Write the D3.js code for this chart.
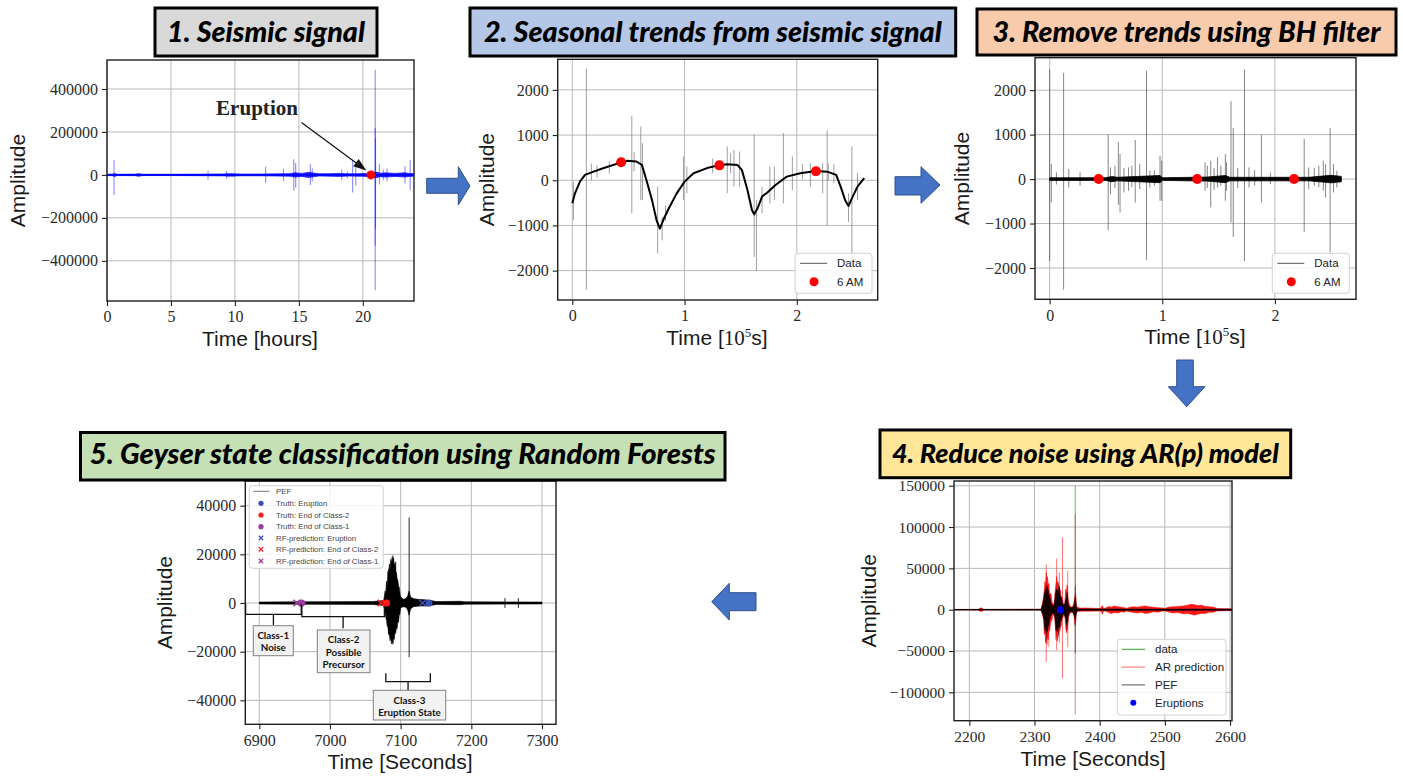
<!DOCTYPE html>
<html>
<head>
<meta charset="utf-8">
<script src="https://cdn.jsdelivr.net/npm/d3@7"></script>
<style>
  html, body { margin: 0; padding: 0; background: #fff; }
  svg { display: block; }
</style>
</head>
<body>
<svg id="fig" width="1403" height="777"></svg>
<script>
// ---------- data ----------
// Panel 1: raw seismic trace (hours, amplitude)
const p1XTicks = [0, 5, 10, 15, 20];
const p1YTicks = [-400000, -200000, 0, 200000, 400000];
const p1Band = [[0,3000],[0.4,3500],[0.6,7000],[0.8,3000],[2.2,3500],[2.5,6000],[2.8,3000],[5,3000],[7,3500],[9.2,4500],[9.5,6000],[10.5,4000],[12,4000],[14.3,6000],[14.7,10000],[15.2,7000],[15.8,12000],[16.1,9000],[16.6,5000],[17.5,6000],[18.2,7000],[18.9,5000],[19.6,6000],[20.5,7000],[21,13000],[21.4,8000],[21.8,10000],[22.5,7000],[23.3,10000],[23.6,7000],[24,6000]];
const p1Spikes = [[0.55,70000,-93000],[2.4,8000,-8000],[7.9,19000,-23000],[9.35,18000,-18000],[9.9,10000,-10000],[12.4,38000,-38000],[13.8,30000,-28000],[14.6,73000,-73000],[14.75,55000,-60000],[15.9,51000,-47000],[16.05,30000,-30000],[18.35,25000,-25000],[18.8,15000,-15000],[19.2,70000,-82000],[19.45,50000,-50000],[20.97,490000,-537000],[20.97,220000,-330000],[20.99,170000,-250000],[21.3,50000,-45000],[21.6,25000,-25000],[21.9,30000,-30000],[23.3,40000,-40000],[23.7,70000,-70000]];
const p1Eruption = [20.63, 0];

// Panel 2: seasonal trend (10^5 s, amplitude)
const p2XTicks = [0, 1, 2];
const p2YTicks = [-2000, -1000, 0, 1000, 2000];
const p2Trend = [[0,-511],[0.024,-290],[0.068,-30],[0.113,120],[0.19,190],[0.28,270],[0.43,390],[0.49,430],[0.57,415],[0.62,340],[0.66,5],[0.71,-440],[0.75,-880],[0.78,-1070],[0.81,-880],[0.86,-620],[0.93,-290],[1.0,-30],[1.08,155],[1.2,270],[1.30,330],[1.38,355],[1.47,340],[1.51,230],[1.56,-215],[1.60,-660],[1.62,-755],[1.65,-620],[1.69,-360],[1.735,-275],[1.81,-105],[1.91,80],[2.03,155],[2.17,205],[2.27,190],[2.35,120],[2.39,-140],[2.43,-440],[2.46,-570],[2.49,-400],[2.54,-140],[2.60,45]];
const p2Spikes = [[0.01,-30,-880],[0.125,2470,-2420],[0.17,370,0],[0.22,330,60],[0.33,420,150],[0.53,1430,-730],[0.55,620,200],[0.61,1190,-440],[0.625,820,-440],[0.76,-140,-1620],[0.80,-810,-1330],[0.83,-560,-900],[0.99,526,-437],[1.02,304,-289],[1.25,480,160],[1.38,748,-289],[1.41,600,150],[1.44,674,-141],[1.49,637,-141],[1.62,1007,-1696],[1.64,-437,-2007],[1.69,-141,-733],[1.76,304,-511],[1.80,304,-437],[1.88,1044,-511],[1.96,526,-215],[2.05,360,20],[2.12,378,-141],[2.23,378,-289],[2.27,1104,-993],[2.28,378,0],[2.33,360,-60],[2.46,-289,-919],[2.49,748,-2363],[2.54,156,-437]];
const sixAMTimes = [0.435, 1.31, 2.17];
const p2SixAMValues = [400, 330, 200];

// Panel 3: detrended trace
const p3Band = [[0,30],[0.5,30],[0.55,60],[0.6,40],[0.98,80],[1.0,30],[1.4,45],[1.56,80],[1.6,40],[2.3,40],[2.5,85],[2.59,60]];
const p3Spikes = [[0.0,2466,-1842],[0.015,338,-526],[0.06,150,-120],[0.124,2391,-2489],[0.17,226,-188],[0.27,150,-150],[0.52,1000,-1150],[0.54,263,-338],[0.58,300,-200],[0.61,827,-579],[0.625,564,-752],[0.66,250,-300],[0.70,263,-263],[0.73,300,-180],[0.76,880,-526],[0.80,338,-226],[0.86,2436,-1820],[0.89,188,-188],[0.93,200,-150],[0.98,526,-489],[0.995,414,-489],[1.38,376,-263],[1.40,300,-200],[1.43,414,-639],[1.46,250,-250],[1.49,489,-188],[1.52,300,-150],[1.56,564,-489],[1.57,376,-263],[1.61,1752,-977],[1.63,1150,-1301],[1.67,250,-200],[1.73,2466,-1842],[1.77,263,-188],[1.82,200,-150],[1.88,992,-526],[1.96,150,-113],[2.26,902,-1188],[2.30,263,-226],[2.35,250,-150],[2.39,300,-180],[2.43,414,-263],[2.45,338,-414],[2.49,1150,-1654],[2.52,338,-301],[2.55,188,-188]];
const p3SixAMValues = [0, 0, 0];

// Panel 4: AR(p) model (seconds, amplitude)
const p4XTicks = [2200, 2300, 2400, 2500, 2600];
const p4YTicks = [-100000, -50000, 0, 50000, 100000, 150000];
const p4RedBand = [[2176,300,-300],[2214,300,-300],[2216,2000,-2000],[2220,2000,-1800],[2222,300,-300],[2310,500,-500],[2312,6000,-5000],[2314,16000,-12000],[2315,24000,-30000],[2316,34000,-22000],[2317,28000,-40000],[2318,45000,-33000],[2319,36000,-42000],[2320,40000,-28000],[2321,26000,-36000],[2322,32000,-22000],[2323,18000,-26000],[2325,20000,-15000],[2327,9000,-12000],[2328,8000,-6000],[2330,6000,-7000],[2331,14000,-10000],[2332,25000,-18000],[2333,32000,-36000],[2334,40000,-28000],[2335,30000,-38000],[2336,34000,-25000],[2337,22000,-30000],[2338,28000,-20000],[2339,20000,-26000],[2340,24000,-18000],[2341,14000,-20000],[2342,16000,-10000],[2344,8000,-9000],[2346,5000,-4000],[2347,14000,-12000],[2348,25000,-22000],[2349,20000,-28000],[2350,30000,-24000],[2351,18000,-20000],[2352,10000,-9000],[2355,4000,-4000],[2358,3000,-3000],[2360,7000,-6000],[2361,11000,-9000],[2362,16000,-18000],[2363,20000,-14000],[2364,8000,-6000],[2365,3000,-2500],[2370,2000,-2000],[2380,2000,-1800],[2400,1500,-1500],[2403,3000,-2500],[2404,5000,-5500],[2405,2500,-3000],[2407,1500,-1500],[2410,2500,-2000],[2414,4000,-3500],[2418,3000,-4500],[2422,4500,-3500],[2428,3500,-4000],[2433,3000,-2500],[2438,2500,-3000],[2441,1500,-1500],[2446,3000,-2500],[2452,3500,-3500],[2458,3000,-4000],[2464,4000,-3000],[2470,4500,-4500],[2476,3500,-4000],[2482,3000,-2500],[2490,2500,-3000],[2496,2000,-1500],[2500,1500,-1500],[2505,3000,-2500],[2512,3500,-4000],[2520,4000,-3500],[2528,4500,-5000],[2535,5500,-4500],[2540,6500,-5500],[2545,6000,-6500],[2550,5000,-5500],[2556,5500,-4500],[2562,4000,-4500],[2568,3500,-3000],[2575,3000,-3000],[2580,1500,-1500],[2603,1000,-1000]];
const p4BlackBand = [[2176,300,-300],[2310,400,-400],[2313,8000,-7000],[2315,18000,-14000],[2316,22000,-25000],[2317,25000,-20000],[2318,20000,-28000],[2319,28000,-22000],[2320,22000,-26000],[2321,24000,-16000],[2322,14000,-20000],[2323,18000,-12000],[2325,9000,-8000],[2327,5000,-5000],[2330,5000,-4000],[2331,10000,-8000],[2332,18000,-15000],[2333,22000,-25000],[2334,25000,-20000],[2335,20000,-27000],[2336,24000,-18000],[2337,16000,-22000],[2338,28000,-18000],[2339,18000,-22000],[2340,16000,-12000],[2341,15000,-14000],[2343,8000,-7000],[2345,5000,-4000],[2347,8000,-9000],[2348,12000,-10000],[2349,14000,-18000],[2350,20000,-14000],[2351,12000,-15000],[2352,5000,-5000],[2356,2000,-2000],[2360,4000,-4000],[2361,6000,-7000],[2362,12000,-10000],[2363,15000,-12000],[2364,4000,-4000],[2366,800,-800],[2603,600,-600]];
const p4RedSpikes = [[2318,55000,-63000],[2322,30000,-45000],[2334,62000,-49000],[2338,45000,-40000],[2343,87500,-83000],[2351,47000,-45000],[2362.5,115000,-127000]];
const p4BlackSpikes = [[2319,30000,-35000],[2337,32000,-33000],[2350,22000,-25000],[2362.5,28000,-53000]];
const p4GreenSpikes = [[2362.5,150000,-20000]];
const p4Eruptions = [[2339.5, 0]];

// Panel 5: Random Forest classification (seconds, amplitude)
const p5XTicks = [6900, 7000, 7100, 7200, 7300];
const p5YTicks = [-40000, -20000, 0, 20000, 40000];
const p5Band = [[6900,400,-400],[6960,500,-500],[7060,600,-600],[7076,1000,-1000],[7077,3000,-2500],[7078,5000,-4000],[7079,4000,-6000],[7080,9000,-7000],[7081,7000,-9500],[7082,13000,-10000],[7083,11000,-12500],[7084,16000,-13000],[7085,14000,-15500],[7086,18000,-14000],[7087,16500,-16800],[7088,19000,-15000],[7089,17000,-16500],[7090,18500,-14000],[7091,15000,-15000],[7092,16500,-12000],[7093,13000,-12500],[7094,12500,-10000],[7095,10000,-10500],[7096,9500,-7500],[7097,7000,-8000],[7098,6500,-5000],[7099,4000,-4500],[7100,2500,-2000],[7104,1500,-1500],[7108,2000,-1800],[7110,3000,-3000],[7112,5000,-5000],[7114,2500,-2500],[7118,1800,-1500],[7124,1500,-1300],[7130,1400,-1200],[7138,1200,-1200],[7145,900,-900],[7150,600,-600],[7185,700,-700],[7190,500,-500],[7300,400,-400]];
const p5Spikes = [[7083,14000,-13000],[7089,19500,-17000],[7093,17000,-11000],[7112,35200,-22300],[7247.6,2000,-2000],[7266.5,2000,-2000]];
const p5Truth = [[7140,'#3a4fb4'],[7080,'#ff1a1a'],[6960,'#9c3c9c']];
const p5Pred = [[7131,'#3a4fb4'],[7072,'#ff1a1a'],[6953,'#9c3c9c']];
const p5Classes = [
  {from: 6880.6, to: 6959.4, lines: ['Class-1', 'Noise']},
  {from: 6960.2, to: 7077, lines: ['Class-2', 'Possible', 'Precursor']},
  {from: 7079, to: 7142, lines: ['Class-3', 'Eruption State']}
];
const p5LegendLabels = ['PEF','Truth: Eruption','Truth: End of Class-2','Truth: End of Class-1','RF-prediction: Eruption','RF-prediction: End of Class-2','RF-prediction: End of Class-1'];

const titles = ['1. Seismic signal','2. Seasonal trends from seismic signal','3. Remove trends using BH filter','4. Reduce noise using AR(p) model','5. Geyser state classification using Random Forests'];

// ---------- helpers ----------
const svg = d3.select('#fig');
const defs = svg.append('defs');
svg.append('rect').attr('width', 1403).attr('height', 777).attr('fill', '#fff');

const SERIF = "'Liberation Serif', 'DejaVu Serif', serif";
const SANS = "'Liberation Sans', Arial, sans-serif";
const TITLE = "Lato, 'Open Sans', sans-serif";

function fitWidth(sel, w) {
  const len = sel.node().getComputedTextLength();
  const fs = parseFloat(sel.attr('font-size'));
  sel.attr('font-size', (fs * w / len).toFixed(2));
}

let clipN = 0;
function makePanel(c) {
  const x = d3.scaleLinear().domain(c.xd).range([c.l, c.r]);
  const y = d3.scaleLinear().domain(c.yd).range([c.b, c.t]);
  const g = svg.append('g');
  // grid
  g.append('g').selectAll('line.gx').data(c.xt).join('line')
    .attr('x1', d => x(d)).attr('x2', d => x(d)).attr('y1', c.t).attr('y2', c.b)
    .attr('stroke', '#b9b9b9').attr('stroke-width', 1);
  g.append('g').selectAll('line.gy').data(c.yt).join('line')
    .attr('x1', c.l).attr('x2', c.r).attr('y1', d => y(d)).attr('y2', d => y(d))
    .attr('stroke', '#b9b9b9').attr('stroke-width', 1);
  const id = 'clip' + (clipN++);
  defs.append('clipPath').attr('id', id).append('rect')
    .attr('x', c.l).attr('y', c.t).attr('width', c.r - c.l).attr('height', c.b - c.t);
  const plot = g.append('g').attr('clip-path', `url(#${id})`);
  // axes
  const fmt = d3.format('d');
  const ax = g.append('g').attr('transform', `translate(0,${c.b})`)
    .call(d3.axisBottom(x).tickValues(c.xt).tickFormat(c.xf || fmt).tickSize(5).tickPadding(5));
  const ay = g.append('g').attr('transform', `translate(${c.l},0)`)
    .call(d3.axisLeft(y).tickValues(c.yt).tickFormat(fmt).tickSize(5).tickPadding(4));
  [ax, ay].forEach(a => {
    a.attr('font-family', null).attr('font-size', null);
    a.select('.domain').remove();
    a.selectAll('line').attr('stroke', '#222').attr('stroke-width', 1.1);
    a.selectAll('text')
      .style('font-family', SERIF).style('font-size', (c.tfs || 16) + 'px').attr('fill', '#2a2a2a');
  });
  // frame
  g.append('rect').attr('x', c.l).attr('y', c.t).attr('width', c.r - c.l).attr('height', c.b - c.t)
    .attr('fill', 'none').attr('stroke', '#1e1e1e').attr('stroke-width', 1.4);
  // axis labels
  g.append('text').attr('transform', `translate(${c.ylx},${(c.t + c.b) / 2}) rotate(-90)`)
    .attr('text-anchor', 'middle').attr('font-family', SANS).attr('font-size', 21).attr('fill', '#1a1a1a')
    .text('Amplitude');
  const xl = g.append('text').attr('x', c.xlx).attr('y', c.b + 45)
    .attr('text-anchor', 'middle').attr('font-family', SANS).attr('font-size', 21).attr('fill', '#1a1a1a');
  if (c.xlabelSup) {
    xl.append('tspan').text('Time [');
    xl.append('tspan').attr('font-family', SERIF).text('10');
    xl.append('tspan').attr('font-family', SERIF).attr('font-size', 13).attr('dy', -8).text('5');
    xl.append('tspan').attr('dy', 8).text('s]');
  } else {
    xl.text(c.xlabel);
  }
  return {x, y, plot, g};
}

function drawSpikes(p, data, color, width, opacity) {
  p.plot.append('g').selectAll('line').data(data).join('line')
    .attr('x1', d => p.x(d[0])).attr('x2', d => p.x(d[0]))
    .attr('y1', d => p.y(d[1])).attr('y2', d => p.y(d[2]))
    .attr('stroke', color).attr('stroke-width', width).attr('stroke-opacity', opacity);
}
function drawSymBand(p, data, color, opacity) {
  const area = d3.area().x(d => p.x(d[0])).y0(d => p.y(-d[1])).y1(d => p.y(d[1]));
  p.plot.append('path').datum(data).attr('d', area).attr('fill', color).attr('fill-opacity', opacity)
    .attr('stroke', color).attr('stroke-width', 0.8).attr('stroke-opacity', opacity);
}
function drawBand(p, data, color, opacity) {
  const area = d3.area().x(d => p.x(d[0])).y0(d => p.y(d[2])).y1(d => p.y(d[1]));
  p.plot.append('path').datum(data).attr('d', area).attr('fill', color).attr('fill-opacity', opacity)
    .attr('stroke', color).attr('stroke-width', 0.6).attr('stroke-opacity', opacity);
}

function titleBox(x0, y0, x1, y1, fill, text, tw, baseline) {
  svg.append('rect').attr('x', x0).attr('y', y0).attr('width', x1 - x0).attr('height', y1 - y0)
    .attr('fill', fill).attr('stroke', '#000').attr('stroke-width', 3);
  const t = svg.append('text').attr('x', (x0 + x1) / 2).attr('y', baseline)
    .attr('text-anchor', 'middle').attr('font-family', TITLE).attr('font-weight', 900)
    .attr('font-style', 'italic').attr('font-size', 25).attr('fill', '#000').text(text);
  fitWidth(t, tw);
}

function blockArrow(pts) {
  svg.append('path').attr('d', d3.line()(pts) + 'Z')
    .attr('fill', '#4472c4').attr('stroke', '#2f528f').attr('stroke-width', 1);
}

function legendBox(x0, y0, x1, y1) {
  svg.append('rect').attr('x', x0).attr('y', y0).attr('width', x1 - x0).attr('height', y1 - y0)
    .attr('rx', 3).attr('fill', '#fff').attr('fill-opacity', 0.85).attr('stroke', '#d2d2d2').attr('stroke-width', 1);
}

// ---------- panel 1 ----------
const P1 = makePanel({l: 107, r: 414, t: 60, b: 301, xd: [0, 24], yd: [-587000, 535000],
  xt: p1XTicks, yt: p1YTicks, ylx: 25, xlx: 260, xlabel: 'Time [hours]'});
drawSpikes(P1, p1Spikes, '#0000ff', 1.2, 0.42);
drawSymBand(P1, p1Band, '#0000ff', 0.85);
P1.plot.append('line').attr('x1', P1.x(0)).attr('x2', P1.x(24)).attr('y1', P1.y(0)).attr('y2', P1.y(0))
  .attr('stroke', '#0000ff').attr('stroke-width', 1.6);
P1.plot.append('circle').attr('cx', P1.x(p1Eruption[0])).attr('cy', P1.y(p1Eruption[1])).attr('r', 4.5).attr('fill', '#ff0000');
// annotation arrow
{
  const tipX = P1.x(p1Eruption[0]) - 4.5, tipY = P1.y(p1Eruption[1]) - 4.5;
  const sx = 301.5, sy = 122.5;
  const ang = Math.atan2(tipY - sy, tipX - sx);
  const hl = 13, hw = 4.5;
  const bx = tipX - hl * Math.cos(ang), by = tipY - hl * Math.sin(ang);
  svg.append('line').attr('x1', sx).attr('y1', sy).attr('x2', bx).attr('y2', by).attr('stroke', '#111').attr('stroke-width', 1.2);
  svg.append('path').attr('d', d3.line()([[tipX, tipY], [bx - hw * Math.sin(ang), by + hw * Math.cos(ang)], [bx + hw * Math.sin(ang), by - hw * Math.cos(ang)]]) + 'Z')
    .attr('fill', '#111');
  const et = svg.append('text').attr('x', 257).attr('y', 115).attr('text-anchor', 'middle')
    .attr('font-family', SERIF).attr('font-weight', 'bold').attr('font-size', 17).attr('fill', '#222').text('Eruption');
  fitWidth(et, 82);
}

// ---------- panel 2 ----------
const P2 = makePanel({l: 557.7, r: 877.7, t: 59.3, b: 300, xd: [-0.13, 2.72], yd: [-2650, 2677],
  xt: p2XTicks, yt: p2YTicks, ylx: 494, xlx: 717, xlabelSup: true});
drawSpikes(P2, p2Spikes, '#666', 0.9, 0.7);
P2.plot.append('path').datum(p2Trend).attr('d', d3.line().x(d => P2.x(d[0])).y(d => P2.y(d[1])))
  .attr('fill', 'none').attr('stroke', '#000').attr('stroke-width', 2).attr('stroke-linejoin', 'round');
P2.plot.selectAll('circle.six').data(sixAMTimes).join('circle')
  .attr('cx', d => P2.x(d)).attr('cy', (d, i) => P2.y(p2SixAMValues[i])).attr('r', 5).attr('fill', '#ff0000');

// ---------- panel 3 ----------
const P3 = makePanel({l: 1035, r: 1356, t: 57.7, b: 299.3, xd: [-0.13, 2.72], yd: [-2704, 2730],
  xt: p2XTicks, yt: p2YTicks, ylx: 969, xlx: 1195, xlabelSup: true});
drawSpikes(P3, p3Spikes, '#333', 0.85, 0.7);
drawSymBand(P3, p3Band, '#000', 1);
P3.plot.selectAll('circle.six').data(sixAMTimes).join('circle')
  .attr('cx', d => P3.x(d)).attr('cy', (d, i) => P3.y(p3SixAMValues[i])).attr('r', 5).attr('fill', '#ff0000');

// legends for panels 2 and 3
[[795, 253.3], [1272.3, 253.3]].forEach(([lx, ly]) => {
  legendBox(lx, ly, lx + 77, ly + 40);
  svg.append('line').attr('x1', lx + 5).attr('x2', lx + 32).attr('y1', ly + 10).attr('y2', ly + 10)
    .attr('stroke', '#555').attr('stroke-width', 1);
  svg.append('circle').attr('cx', lx + 19).attr('cy', ly + 28.5).attr('r', 4.5).attr('fill', '#ff0000');
  svg.append('text').attr('x', lx + 42).attr('y', ly + 14).attr('font-family', SANS).attr('font-size', 11.5).attr('fill', '#222').text('Data');
  svg.append('text').attr('x', lx + 42).attr('y', ly + 32.5).attr('font-family', SANS).attr('font-size', 11.5).attr('fill', '#222').text('6 AM');
});

// ---------- panel 4 ----------
const P4 = makePanel({l: 954, r: 1232, t: 481, b: 720.7, xd: [2176.5, 2603], yd: [-134300, 155700],
  xt: p4XTicks, yt: p4YTicks, ylx: 876, xlx: 1093, xlabel: 'Time [Seconds]', tfs: 15.5});
P4.plot.append('line').attr('x1', P4.x(2176.5)).attr('x2', P4.x(2603)).attr('y1', P4.y(0)).attr('y2', P4.y(0))
  .attr('stroke', '#2ca02c').attr('stroke-width', 1).attr('stroke-opacity', 0.6);
drawSpikes(P4, p4GreenSpikes, '#2ca02c', 1, 0.7);
drawBand(P4, p4RedBand, '#ff0000', 0.9);
drawSpikes(P4, p4RedSpikes, '#ff0000', 1, 0.55);
drawBand(P4, p4BlackBand, '#000', 0.9);
drawSpikes(P4, p4BlackSpikes, '#000', 0.8, 0.6);
P4.plot.append('line').attr('x1', P4.x(2176.5)).attr('x2', P4.x(2603)).attr('y1', P4.y(0)).attr('y2', P4.y(0))
  .attr('stroke', '#000').attr('stroke-width', 0.8);
P4.plot.selectAll('circle.er').data(p4Eruptions).join('circle')
  .attr('cx', d => P4.x(d[0])).attr('cy', d => P4.y(d[1])).attr('r', 3.5).attr('fill', '#0000ff');
{
  legendBox(1117.3, 639.3, 1226, 715);
  const rows = [['data', 'line', '#2ca02c'], ['AR prediction', 'line', '#ff6666'], ['PEF', 'line', '#555'], ['Eruptions', 'dot', '#0000ff']];
  rows.forEach((r, i) => {
    const yy = 649.3 + i * 17.8;
    if (r[1] === 'line') {
      svg.append('line').attr('x1', 1121.7).attr('x2', 1145).attr('y1', yy).attr('y2', yy).attr('stroke', r[2]).attr('stroke-width', 1);
    } else {
      svg.append('circle').attr('cx', 1133.3).attr('cy', yy).attr('r', 3).attr('fill', r[2]);
    }
    svg.append('text').attr('x', 1155).attr('y', yy + 4).attr('font-family', SANS).attr('font-size', 11.5).attr('fill', '#222').text(r[0]);
  });
}

// ---------- panel 5 ----------
const P5 = makePanel({l: 245.3, r: 556, t: 481, b: 724.3, xd: [6880.2, 7319.8], yd: [-49860, 50150],
  xt: p5XTicks, yt: p5YTicks, ylx: 172, xlx: 400, xlabel: 'Time [Seconds]'});
{
  drawBand(P5, p5Band, '#000', 1);
  drawSpikes(P5, p5Spikes, '#000', 1, 0.85);
  // predicted markers (x) and truth markers (dots)
  const cross = d3.symbol(d3.symbolX, 30);
  P5.plot.selectAll('path.pred').data(p5Pred).join('path')
    .attr('transform', d => `translate(${P5.x(d[0])},${P5.y(0)})`).attr('d', cross)
    .attr('fill', 'none').attr('stroke', d => d[1]).attr('stroke-width', 1.6);
  P5.plot.selectAll('circle.truth').data(p5Truth).join('circle')
    .attr('cx', d => P5.x(d[0])).attr('cy', P5.y(0)).attr('r', 3.6).attr('fill', d => d[1]);
}
// class braces and labels
{
  const y0 = P5.y(0);
  const braceSpec = [
    {top: y0 + 1, mid: y0 + 11.3, tip: y0 + 22, box: [253.3, 625.7, 293.3, 655.7], lineY: [635, 647.3]},
    {top: y0 + 3, mid: y0 + 13.7, tip: y0 + 25.3, box: [317.3, 630, 370, 672.7], lineY: [639.5, 652, 664.5]},
    {top: y0 + 70.3, mid: y0 + 78.7, tip: y0 + 87, box: [373.3, 690.3, 445.7, 720], lineY: [700, 712]}
  ];
  p5Classes.forEach((c, i) => {
    const s = braceSpec[i];
    const xa = P5.x(c.from), xb = P5.x(c.to), xm = (xa + xb) / 2;
    svg.append('path').attr('d', `M${xa},${s.top}L${xa},${s.mid}L${xb},${s.mid}L${xb},${s.top}M${xm},${s.mid}L${xm},${s.tip}`)
      .attr('fill', 'none').attr('stroke', '#111').attr('stroke-width', 1.3);
    const [bx0, by0, bx1, by1] = s.box;
    svg.append('rect').attr('x', bx0).attr('y', by0).attr('width', bx1 - bx0).attr('height', by1 - by0)
      .attr('fill', '#f2f2f2').attr('stroke', '#808080').attr('stroke-width', 1);
    c.lines.forEach((ln, j) => {
      svg.append('text').attr('x', (bx0 + bx1) / 2).attr('y', s.lineY[j] + 3.5).attr('text-anchor', 'middle')
        .attr('font-family', TITLE).attr('font-weight', 'bold').attr('font-size', 9.8).attr('fill', '#111').text(ln);
    });
  });
}
// panel 5 legend
{
  legendBox(249.3, 485.7, 383.3, 568.3);
  const rowsY = [491.3, 503.3, 515, 526.7, 538, 549.3, 561];
  const colors = ['#555', '#3a4fb4', '#ff1a1a', '#9c3c9c', '#3a4fb4', '#ff1a1a', '#9c3c9c'];
  p5LegendLabels.forEach((lab, i) => {
    const yy = rowsY[i];
    if (i === 0) {
      svg.append('line').attr('x1', 253.3).attr('x2', 269.3).attr('y1', yy).attr('y2', yy).attr('stroke', '#555').attr('stroke-width', 0.8);
    } else if (i < 4) {
      svg.append('circle').attr('cx', 261).attr('cy', yy).attr('r', 2.6).attr('fill', colors[i]);
    } else {
      svg.append('path').attr('transform', `translate(261,${yy})`).attr('d', d3.symbol(d3.symbolX, 14)())
        .attr('fill', 'none').attr('stroke', colors[i]).attr('stroke-width', 1.3);
    }
    svg.append('text').attr('x', 276).attr('y', yy + 2.7).attr('font-family', SANS).attr('font-size', 7.8)
      .attr('fill', '#444').text(lab);
  });
}

// ---------- titles ----------
titleBox(155, 8, 377, 56, '#d9d9d9', titles[0], 198, 41.5);
titleBox(470, 8, 955.7, 56, '#b4c7e7', titles[1], 458, 41.5);
titleBox(977, 9, 1396, 55, '#f8cbad', titles[2], 388, 41.5);
titleBox(880, 430, 1290.7, 477.7, '#ffe699', titles[3], 387, 463);
titleBox(80.5, 432.5, 725, 480, '#c5e0b4', titles[4], 626, 464);

// ---------- process arrows ----------
blockArrow([[426.7,178.3],[458.3,178.3],[458.3,166.7],[470,186],[458.3,205],[458.3,193.3],[426.7,193.3]]);
blockArrow([[895,176.7],[921,176.7],[921,166.7],[940,185],[921,203.3],[921,195],[895,195]]);
blockArrow([[1176.7,360],[1193.3,360],[1193.3,386.7],[1205,386.7],[1186.7,406.7],[1168.3,386.7],[1176.7,386.7]]);
blockArrow([[756,592.7],[729.3,592.7],[729.3,583.3],[711.7,601.7],[729.3,620],[729.3,610.7],[756,610.7]]);
</script>
</body>
</html>
